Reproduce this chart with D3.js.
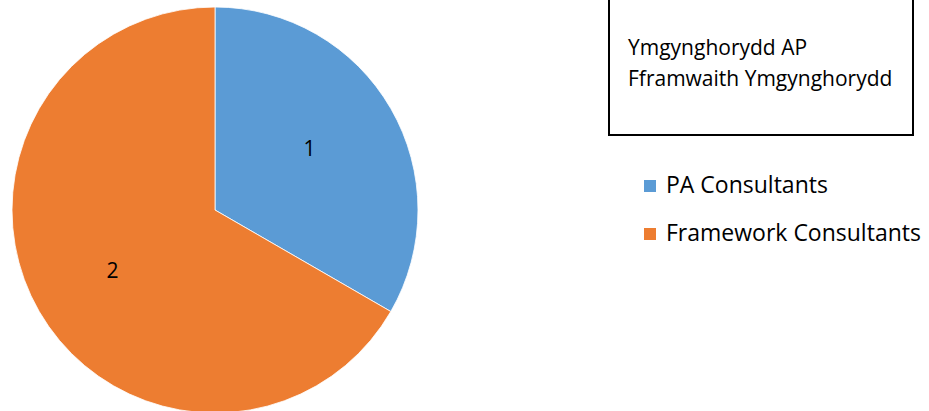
<!DOCTYPE html>
<html>
<meta charset="utf-8">
<style>
    body { margin: 0; background: #fff; }
    svg text { font-family: "Open Sans", "Noto Sans", sans-serif; fill: #000; }
</style>
<body>
<script src="https://cdn.jsdelivr.net/npm/d3@7"></script>
<div id="chart"></div>
<script>
// Chart data
var categories = ["PA Consultants", "Framework Consultants"];
var values = [1, 2];
var colors = ["#5B9BD5", "#ED7D31"];
var titleLines = ["Ymgynghorydd AP", "Fframwaith Ymgynghorydd"];

var width = 929, height = 411;
var cx = 215, cy = 210, radius = 203;

var svg = d3.select("#chart").append("svg")
    .attr("width", width)
    .attr("height", height);

var color = d3.scaleOrdinal().domain(categories).range(colors);

var pie = d3.pie().sort(null).value(function(d) { return d.value; });
var arc = d3.arc().innerRadius(0).outerRadius(radius);
var data = categories.map(function(c, i) { return { name: c, value: values[i] }; });

var g = svg.append("g").attr("transform", "translate(" + cx + "," + cy + ")");

g.selectAll("path.slice")
    .data(pie(data))
    .enter()
    .append("path")
    .attr("class", "slice")
    .attr("d", arc)
    .attr("fill", function(d) { return color(d.data.name); })
    .attr("stroke", "#fff")
    .attr("stroke-width", 0.8);

// value labels inside slices
var labelArc = d3.arc().innerRadius(radius * 0.56).outerRadius(radius * 0.56);
g.selectAll("text.val")
    .data(pie(data))
    .enter()
    .append("text")
    .attr("class", "val")
    .attr("transform", function(d) {
        var c = labelArc.centroid(d);
        return "translate(" + (c[0] - 4) + "," + (c[1] - (d.index === 0 ? 5 : -4)) + ")";
    })
    .attr("text-anchor", "middle")
    .attr("dy", "0.35em")
    .style("font-size", "21px")
    .text(function(d) { return d.data.value; });

// title box
svg.append("rect")
    .attr("x", 609)
    .attr("y", -5)
    .attr("width", 304)
    .attr("height", 140)
    .attr("fill", "none")
    .attr("stroke", "#000")
    .attr("stroke-width", 2);

svg.selectAll("text.title")
    .data(titleLines)
    .enter()
    .append("text")
    .attr("class", "title")
    .attr("x", 628)
    .attr("y", function(d, i) { return 55 + i * 31; })
    .style("font-size", "21px")
    .text(function(d) { return d; });

// legend
var legend = svg.selectAll("g.legend")
    .data(categories)
    .enter()
    .append("g")
    .attr("class", "legend")
    .attr("transform", function(d, i) { return "translate(644," + (180 + i * 48) + ")"; });

legend.append("rect")
    .attr("width", 12)
    .attr("height", 12)
    .attr("fill", function(d) { return color(d); });

legend.append("text")
    .attr("x", 22)
    .attr("y", 13)
    .style("font-size", "23px")
    .text(function(d) { return d; });
</script>
</body>
</html>
